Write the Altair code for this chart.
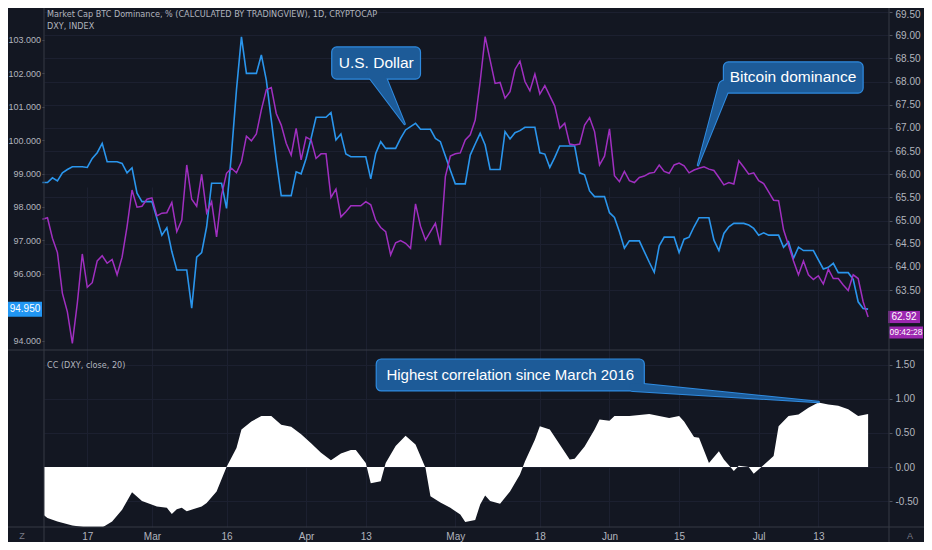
import altair as alt
import pandas as pd

START = pd.Timestamp("2020-02-08")

# ---------------- data (day offsets from START) ----------------
dxy_day = [0, 1, 2, 3, 4, 5, 6, 8, 9, 10, 11, 12, 13, 15, 16, 17, 18, 19, 20, 22,
           23, 24, 25, 26, 27, 29, 30, 31, 32, 33, 34, 36, 37, 38, 39, 40, 41, 43, 44, 45,
           46, 47, 48, 50, 51, 52, 53, 54, 55, 57, 58, 59, 60, 61, 62, 64, 65, 66, 67, 68,
           69, 71, 72, 73, 74, 75, 76, 78, 79, 80, 81, 82, 83, 85, 86, 87, 88, 89, 90, 92,
           93, 94, 95, 96, 97, 99, 100, 101, 102, 103, 104, 106, 107, 108, 109, 110, 111, 113, 114, 115,
           116, 117, 118, 120, 121, 122, 123, 124, 125, 127, 128, 129, 130, 131, 132, 134, 135, 136, 137, 138,
           139, 141, 142, 143, 144, 145, 146, 148, 149, 150, 151, 152, 153, 155, 156, 157, 158, 159, 160, 162,
           163, 164, 165, 166]
dxy_val = [98.73, 98.73, 98.87, 98.78, 99.02, 99.12, 99.20, 99.20, 99.18, 99.45, 99.62, 99.90, 99.35, 99.35, 99.30, 99.02, 99.17, 98.41, 98.16, 98.16,
           97.66, 97.16, 97.38, 96.67, 96.12, 96.12, 94.98, 96.50, 96.64, 97.41, 98.71, 98.71, 97.96, 99.60, 101.50, 103.08, 101.99, 101.99, 102.54, 101.79,
           100.60, 99.40, 98.34, 98.34, 99.05, 98.99, 99.45, 100.05, 100.68, 100.68, 100.82, 100.00, 100.18, 99.58, 99.50, 99.50, 99.50, 98.84, 99.60, 99.95,
           99.75, 99.75, 100.05, 100.30, 100.40, 100.50, 100.32, 100.32, 100.05, 99.95, 99.52, 99.10, 98.69, 98.69, 99.55, 99.88, 100.20, 99.85, 99.12, 99.12,
           100.25, 100.03, 100.22, 100.28, 100.38, 100.38, 99.62, 99.58, 99.18, 99.48, 99.82, 99.82, 99.82, 99.02, 98.96, 98.48, 98.31, 98.31, 97.83, 97.69,
           97.26, 96.77, 96.99, 96.99, 96.67, 96.35, 96.05, 96.84, 97.10, 97.10, 96.64, 97.04, 97.10, 97.41, 97.68, 97.68, 97.01, 96.70, 97.21, 97.41,
           97.51, 97.51, 97.46, 97.36, 97.16, 97.23, 97.16, 97.16, 96.80, 96.96, 96.47, 96.80, 96.70, 96.70, 96.42, 96.15, 96.20, 96.32, 96.04, 96.04,
           95.84, 95.17, 94.97, 94.95]

btc_val = [65.03, 65.06, 64.62, 64.31, 63.43, 63.03, 62.35, 63.22, 64.28, 63.56,
           63.66, 64.13, 64.24, 64.08, 64.16, 63.83, 64.21, 64.87, 65.66, 65.29,
           65.31, 65.46, 65.49, 65.10, 65.16, 65.17, 65.39, 64.76, 65.01, 66.20,
           65.46, 65.31, 66.00, 65.17, 65.41, 64.65, 65.55, 66.02, 66.13, 66.03,
           66.27, 66.82, 66.72, 66.87, 67.39, 67.82, 67.87, 67.31, 67.06, 66.67,
           66.41, 66.99, 66.31, 66.80, 66.74, 66.34, 66.44, 66.44, 65.50, 65.68,
           65.08, 65.19, 65.32, 65.32, 65.32, 65.41, 65.34, 65.01, 64.85, 64.76,
           64.26, 64.52, 64.57, 64.51, 64.40, 65.36, 64.88, 64.58, 64.76, 64.94,
           64.47, 65.95, 66.39, 66.44, 66.46, 66.74, 66.85, 67.17, 68.00, 68.97,
           68.46, 67.96, 67.98, 67.64, 67.78, 68.26, 68.44, 68.00, 67.80, 68.16,
           67.73, 67.91, 67.69, 67.47, 66.99, 67.10, 66.65, 66.63, 66.65, 67.06,
           67.22, 66.92, 66.20, 66.39, 66.98, 65.97, 65.84, 66.06, 65.86, 65.82,
           65.93, 65.96, 66.02, 66.04, 66.20, 66.06, 66.02, 66.20, 66.24, 66.18,
           66.03, 66.09, 66.13, 66.16, 66.11, 66.08, 65.93, 65.77, 65.82, 65.79,
           66.29, 66.15, 66.00, 66.03, 65.86, 65.80, 65.62, 65.44, 65.43, 64.80,
           64.47, 64.13, 63.83, 64.13, 63.83, 63.73, 63.81, 63.63, 63.95, 63.75,
           63.75, 63.61, 63.49, 63.83, 63.75, 63.25, 62.92]

cc_day = [0, 1, 3, 6, 9, 12, 14, 16, 18, 20, 23, 25, 26, 27, 28, 29, 32, 33, 35, 37,
          39, 40, 42, 44, 46, 48, 50, 52, 54, 56, 58, 60, 62, 63, 65, 66, 68, 69, 71, 73,
          75, 77, 78, 80, 82, 84, 85, 87, 88, 89, 90, 92, 94, 96, 97, 99, 100, 102, 104, 106,
          107, 109, 111, 112, 114, 115, 118, 122, 124, 126, 128, 129, 131, 132, 134, 136, 137, 139, 140, 142,
          143, 145, 147, 148, 150, 152, 154, 156, 158, 160, 162, 164, 166]
cc_val = [-0.69, -0.75, -0.80, -0.86, -0.89, -0.89, -0.80, -0.63, -0.37, -0.50, -0.58, -0.60, -0.69, -0.62, -0.60, -0.65, -0.58, -0.53, -0.36, 0.00,
          0.28, 0.55, 0.67, 0.75, 0.75, 0.62, 0.59, 0.48, 0.35, 0.21, 0.10, 0.20, 0.25, 0.25, 0.06, -0.24, -0.21, 0.06, 0.31, 0.46,
          0.33, -0.01, -0.43, -0.52, -0.60, -0.70, -0.81, -0.78, -0.55, -0.42, -0.50, -0.54, -0.36, -0.11, 0.08, 0.40, 0.60, 0.55, 0.33, 0.11,
          0.12, 0.30, 0.55, 0.70, 0.68, 0.75, 0.75, 0.78, 0.75, 0.72, 0.75, 0.67, 0.44, 0.43, 0.06, 0.23, 0.11, -0.06, 0.02, 0.00,
          -0.10, 0.03, 0.16, 0.60, 0.75, 0.77, 0.87, 0.95, 0.92, 0.90, 0.85, 0.75, 0.78]

x_ticks = ["2020-02-17", "2020-03-01", "2020-03-16", "2020-04-01", "2020-04-13", "2020-05-01",
           "2020-05-18", "2020-06-01", "2020-06-15", "2020-07-01", "2020-07-13"]
dxy_ticks = [94, 96, 97, 98, 99, 100, 101, 102, 103]
btc_ticks = [63.5, 64.0, 64.5, 65.0, 65.5, 66.0, 66.5, 67.0, 67.5, 68.0, 68.5, 69.0, 69.5]
cc_ticks = [-0.5, 0.0, 0.5, 1.0, 1.5]

dxy_last_label = ["94.950"]
btc_last_label = ["62.92"]
countdown_label = ["09:42:28"]

header_lines = ["Market Cap BTC Dominance, % (CALCULATED BY TRADINGVIEW), 1D, CRYPTOCAP", "DXY, INDEX"]
cc_header = ["CC (DXY, close, 20)"]

# callouts (day offsets and values on the panel's own scale)
top_note_text = ["U.S. Dollar", "Bitcoin dominance"]
top_note_x1 = [58.15, 136.9]
top_note_x2 = [76.0, 165.0]
top_note_y1 = [101.82, 101.40]
top_note_y2 = [102.78, 102.33]
top_note_tx = [67.1, 150.9]
top_note_ty = [102.30, 101.87]
top_ptr_id = [0, 0, 1, 1]
top_ptr_day = [67.0, 72.8, 137.1, 131.8]
top_ptr_val = [102.0, 100.48, 101.61, 99.25]
top_ptr_w = [16, 0.5, 11, 0.5]

bot_note_text = ["Highest correlation since March 2016"]
bot_note_x1 = [67.1]
bot_note_x2 = [121.0]
bot_note_y1 = [1.118]
bot_note_y2 = [1.588]
bot_note_tx = [94.05]
bot_note_ty = [1.353]
bot_ptr_id = [0, 0]
bot_ptr_day = [118.8, 156.05]
bot_ptr_val = [1.176, 0.956]
bot_ptr_w = [8, 0.5]

# ---------------- styling ----------------
PAD_L, PAD_R, PAD_T, PAD_B = 36, 35, 2, 15
W, H1, H2 = 916 - PAD_L - PAD_R, 340, 177
H = H1 + H2
BG = "#131722"
LINE = "#363a45"
GRID = "#1c2030"
TXT = "#b2b5be"
AXFONT = "Liberation Sans, Arial, sans-serif"
HDRFONT = "DejaVu Sans Condensed, Liberation Sans, sans-serif"
BOXFONT = "Liberation Sans, Arial, sans-serif"
BLUE = "#2a95ec"
PURPLE = "#a02fc0"
BOX_FILL = "#1d5b98"
BOX_STROKE = "#2f8be0"


def iso(days):
    return [(START + pd.to_timedelta(float(d), unit="D")).strftime("%Y-%m-%dT%H:%M:%SZ") for d in days]


xvals = [alt.DateTime(year=int(s[0:4]), month=int(s[5:7]), date=int(s[8:10]), utc=True) for s in x_ticks]
xscale = alt.Scale(type="utc", nice=False,
                   domain=[alt.DateTime(year=2020, month=2, date=8, hours=7, minutes=12, utc=True),
                           alt.DateTime(year=2020, month=7, date=27, hours=4, minutes=48, utc=True)])
label_expr = "utcdate(datum.value) == 1 ? utcFormat(datum.value, '%b') : utcFormat(datum.value, '%d')"
xaxis = alt.Axis(values=xvals, grid=True, gridColor=GRID, labelExpr=label_expr, ticks=False,
                 domain=False, title=None, labelColor=TXT, labelFont=AXFONT, labelFontSize=10,
                 labelPadding=4)


def XF(field):
    return alt.X(field, type="temporal", scale=xscale, axis=xaxis)


dxy_scale = alt.Scale(domain=[93.731, 103.881], zero=False, nice=False, range=[H1, 0])
dxy_axis = alt.Axis(orient="left", values=dxy_ticks, format=".3f", grid=False, title=None,
                    labelColor=TXT, labelFont=AXFONT, labelFontSize=9, tickColor="#50535e", tickSize=2,
                    labelPadding=1.5, domain=False)
btc_scale = alt.Scale(domain=[62.208, 69.543], zero=False, nice=False, range=[H1, 0])
btc_axis = alt.Axis(orient="right", values=btc_ticks, format=".2f", grid=True, gridColor=GRID,
                    title=None, labelColor=TXT, labelFont=AXFONT, labelFontSize=10, tickColor="#50535e",
                    tickSize=3, labelPadding=3, domain=False,
                    labelOffset={"condition": {"test": "datum.value >= 69.4", "value": 2.5}, "value": 0})
cc_scale = alt.Scale(domain=[-0.882, 1.72], zero=False, nice=False, range=[H, H1])
cc_axis = alt.Axis(orient="right", values=cc_ticks,
                   labelExpr="(datum.value < 0 ? '-' : '') + format(abs(datum.value), '.2f')",
                   grid=True, gridColor=GRID, domain=False, title=None, labelColor=TXT,
                   labelFont=AXFONT, labelFontSize=10, tickColor="#50535e", tickSize=3, labelPadding=3)


def YD(field):
    return alt.Y(field, type="quantitative", scale=dxy_scale, axis=dxy_axis)


def YB(field):
    return alt.Y(field, type="quantitative", scale=btc_scale, axis=btc_axis)


def YC(field):
    return alt.Y(field, type="quantitative", scale=cc_scale, axis=cc_axis)


def box_path(half_h):
    return f"M-1,-{half_h}L1,-{half_h}L1,{half_h}L-1,{half_h}Z"


# ---------------- data frames ----------------
dxy_df = pd.DataFrame({"date": iso(dxy_day), "v": dxy_val})
btc_df = pd.DataFrame({"date": iso(range(len(btc_val))), "v": btc_val})
cc_df = pd.DataFrame({"date": iso(cc_day), "v": cc_val})

top_notes = pd.DataFrame({"x1": iso(top_note_x1), "x2": iso(top_note_x2), "y1": top_note_y1,
                          "y2": top_note_y2, "tx": iso(top_note_tx), "ty": top_note_ty,
                          "text": top_note_text})
top_ptr = pd.DataFrame({"id": top_ptr_id, "date": iso(top_ptr_day), "v": top_ptr_val,
                        "w": top_ptr_w, "wb": [w + 2 for w in top_ptr_w]})
bot_notes = pd.DataFrame({"x1": iso(bot_note_x1), "x2": iso(bot_note_x2), "y1": bot_note_y1,
                          "y2": bot_note_y2, "tx": iso(bot_note_tx), "ty": bot_note_ty,
                          "text": bot_note_text})
bot_ptr = pd.DataFrame({"id": bot_ptr_id, "date": iso(bot_ptr_day), "v": bot_ptr_val,
                        "w": bot_ptr_w, "wb": [w + 2 for w in bot_ptr_w]})

dxy_lab = pd.DataFrame({"v": [dxy_val[-1]], "text": dxy_last_label})
btc_lab = pd.DataFrame({"v": [btc_val[-1]], "text": btc_last_label, "cd": countdown_label})
hdr = pd.DataFrame({"t1": [header_lines[0]], "t2": [header_lines[1]], "cc": cc_header,
                    "z": ["Z"], "a": ["A"]})


def callouts(notes, ptr, YF, fs):
    border = alt.Chart(ptr).mark_trail(color=BOX_STROKE).encode(
        x=XF("date"), y=YF("v"), size=alt.Size("wb:Q", scale=None, legend=None), detail="id:N")
    box = alt.Chart(notes).mark_rect(cornerRadius=5, fill=BOX_FILL, stroke=BOX_STROKE,
                                     strokeWidth=1.2).encode(
        x=XF("x1"), x2=alt.X2("x2"), y=YF("y1"), y2=alt.Y2("y2"))
    fill = alt.Chart(ptr).mark_trail(color=BOX_FILL).encode(
        x=XF("date"), y=YF("v"), size=alt.Size("w:Q", scale=None, legend=None), detail="id:N")
    txt = alt.Chart(notes).mark_text(color="#ffffff", font=BOXFONT, fontSize=fs, align="center",
                                     baseline="middle").encode(
        x=XF("tx"), y=YF("ty"), text="text:N")
    return [border, box, fill, txt]


def rule(**enc):
    return alt.Chart(hdr).mark_rule(color=LINE, strokeWidth=1).encode(**enc)


# ---------------- top panel: DXY ----------------
dxy_line = alt.Chart(dxy_df).mark_line(color=BLUE, strokeWidth=1.6).encode(x=XF("date"), y=YD("v"))
dxy_box = alt.Chart(dxy_lab).mark_point(shape=box_path(0.44), size=1156, filled=True, fill="#2196f3",
                                        opacity=1, strokeWidth=0).encode(x=alt.value(-19), y=YD("v"))
dxy_txt = alt.Chart(dxy_lab).mark_text(color="#ffffff", font=AXFONT, fontSize=10, align="center",
                                       baseline="middle").encode(x=alt.value(-19), y=YD("v"), text="text:N")
hdr1 = alt.Chart(hdr).mark_text(color=TXT, font=HDRFONT, fontSize=9, align="left",
                                baseline="middle").encode(x=alt.value(3), y=alt.value(3.5), text="t1:N")
hdr2 = alt.Chart(hdr).mark_text(color=TXT, font=HDRFONT, fontSize=9, align="left",
                                baseline="middle").encode(x=alt.value(3), y=alt.value(16), text="t2:N")
dxy_group = alt.layer(dxy_line, *callouts(top_notes, top_ptr, YD, 15.5), dxy_box, dxy_txt, hdr1, hdr2)

# ---------------- top panel: BTC dominance ----------------
btc_line = alt.Chart(btc_df).mark_line(color=PURPLE, strokeWidth=1.5).encode(x=XF("date"), y=YB("v"))
btc_box = alt.Chart(btc_lab).mark_point(shape=box_path(0.38), size=1024, filled=True, fill="#9c27b0",
                                        opacity=1, strokeWidth=0).encode(x=alt.value(W + 15), y=YB("v"))
btc_txt = alt.Chart(btc_lab).mark_text(color="#ffffff", font=AXFONT, fontSize=10, align="center",
                                       baseline="middle").encode(x=alt.value(W + 15), y=YB("v"), text="text:N")
cd_box = alt.Chart(btc_lab).mark_point(shape=box_path(0.35), size=1156, filled=True, fill="#9c27b0",
                                       opacity=1, strokeWidth=0, yOffset=15.5).encode(x=alt.value(W + 17), y=YB("v"))
cd_txt = alt.Chart(btc_lab).mark_text(color="#ffffff", font=AXFONT, fontSize=8.5, align="center",
                                      baseline="middle", yOffset=15.5).encode(x=alt.value(W + 17), y=YB("v"), text="cd:N")
btc_group = alt.layer(btc_line, btc_box, btc_txt, cd_box, cd_txt)

# ---------------- bottom panel: CC ----------------
cc_area = alt.Chart(cc_df).mark_area(color="#ffffff", opacity=1, clip=True).encode(
    x=XF("date"), y=YC("v"), y2=alt.datum(0))
cc_hdr = alt.Chart(hdr).mark_text(color=TXT, font=HDRFONT, fontSize=9, align="left",
                                  baseline="middle").encode(x=alt.value(3), y=alt.value(H1 + 15), text="cc:N")
z_txt = alt.Chart(hdr).mark_text(color="#787b86", font=AXFONT, fontSize=9, align="center",
                                 baseline="middle").encode(x=alt.value(-22), y=alt.value(H + 9), text="z:N")
a_txt = alt.Chart(hdr).mark_text(color="#787b86", font=AXFONT, fontSize=9, align="center",
                                 baseline="middle").encode(x=alt.value(W + 21), y=alt.value(H + 9), text="a:N")
cc_group = alt.layer(cc_area, *callouts(bot_notes, bot_ptr, YC, 15), cc_hdr, z_txt, a_txt)

frame = alt.layer(
    rule(x=alt.value(-PAD_L), x2=alt.value(W + PAD_R), y=alt.value(H1)),
    rule(x=alt.value(-PAD_L), x2=alt.value(W + PAD_R), y=alt.value(H)),
    rule(x=alt.value(0), y=alt.value(-PAD_T), y2=alt.value(H + PAD_B)),
    rule(x=alt.value(W), y=alt.value(-PAD_T), y2=alt.value(H + PAD_B)),
)

chart = alt.layer(dxy_group, btc_group, cc_group, frame).resolve_scale(y="independent").properties(
    width=W, height=H,
    autosize=alt.AutoSizeParams(type="none"),
    padding={"left": PAD_L, "right": PAD_R, "top": PAD_T, "bottom": PAD_B},
).configure(background=BG).configure_view(stroke="transparent")

chart.save("out.html", embed_options={"renderer": "svg", "actions": False})
